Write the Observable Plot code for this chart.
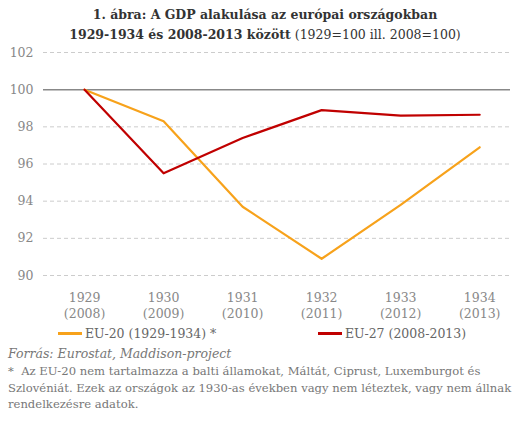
<!DOCTYPE html>
<html><head><meta charset="utf-8">
<script src="https://cdn.jsdelivr.net/npm/d3@7"></script>
<script src="https://cdn.jsdelivr.net/npm/@observablehq/plot@0.6"></script>
<style>
body{margin:0;background:#fff;font-family:"DejaVu Serif",serif;}
#wrap{width:530px;position:relative;}
.title{text-align:center;color:#333;font-size:12.5px;line-height:20px;padding-top:5px;height:37px;}
.title b{font-weight:bold;}
.legend{position:relative;height:20px;font-size:12.5px;color:#666;}
.legend .item{position:absolute;top:1px;display:flex;align-items:center;}
.legend .sw{width:24px;height:2.5px;margin-right:3px;}
.src{font-style:italic;color:#777;font-size:12.5px;padding-left:8px;line-height:17px;}
.note{color:#777;font-size:11.6px;padding-left:8px;padding-right:6px;line-height:16.5px;padding-top:1px;}
</style></head>
<body><div id="wrap">
<div class="title"><b>1. ábra: A GDP alakulása az európai országokban</b><br><b>1929-1934 és 2008-2013 között</b> (1929=100 ill. 2008=100)</div>
<div id="chart"></div>
<div class="legend">
<div class="item" style="left:58px"><span class="sw" style="background:#F7A21B"></span>EU-20 (1929-1934) *</div>
<div class="item" style="left:318px"><span class="sw" style="background:#C00000"></span>EU-27 (2008-2013)</div>
</div>
<div class="src">Forrás: Eurostat, Maddison-project</div>
<div class="note">*&nbsp; Az EU-20 nem tartalmazza a balti államokat, Máltát, Ciprust, Luxemburgot és<br>Szlovéniát. Ezek az országok az 1930-as években vagy nem léteztek, vagy nem állnak<br>rendelkezésre adatok.</div>
</div>
<script>
const years = [1929, 1930, 1931, 1932, 1933, 1934];
const altYears = [2008, 2009, 2010, 2011, 2012, 2013];
const eu20 = [100, 98.3, 93.7, 90.9, 93.8, 96.9];
const eu27 = [100, 95.5, 97.4, 98.9, 98.6, 98.65];
const yTicks = [90, 92, 94, 96, 98, 100, 102];
const seriesNames = ["EU-20 (1929-1934) *", "EU-27 (2008-2013)"];
const colors = ["#F7A21B", "#C00000"];

const data = [];
years.forEach((y, i) => {
  data.push({year: y, value: eu20[i], series: seriesNames[0]});
});
years.forEach((y, i) => {
  data.push({year: y, value: eu27[i], series: seriesNames[1]});
});

const chart = Plot.plot({
  width: 530,
  height: 283,
  marginTop: 10,
  marginBottom: 50,
  marginLeft: 43,
  marginRight: 20,
  style: {fontFamily: "DejaVu Serif, serif", fontSize: "12.5px", color: "#888"},
  x: {type: "linear", domain: [1928.48, 1934.39]},
  y: {domain: [90, 102]},
  color: {domain: seriesNames, range: colors},
  marks: [
    Plot.ruleY(yTicks.filter(d => d !== 100), {stroke: "#ccc", strokeDasharray: "4,3", strokeWidth: 1}),
    Plot.ruleY([100], {stroke: "#888", strokeWidth: 1.5}),
    Plot.axisY({ticks: yTicks, tickSize: 0, tickPadding: 10, label: null, fill: "#888"}),
    Plot.axisX({ticks: years, tickSize: 0, tickPadding: 15, label: null, fill: "#888",
      tickFormat: d => `${d}\n(${altYears[years.indexOf(d)]})`, lineHeight: 1.3}),
    Plot.line(data, {x: "year", y: "value", stroke: "series", strokeWidth: 2.2})
  ]
});
document.getElementById("chart").appendChild(chart);
</script>
</body></html>
